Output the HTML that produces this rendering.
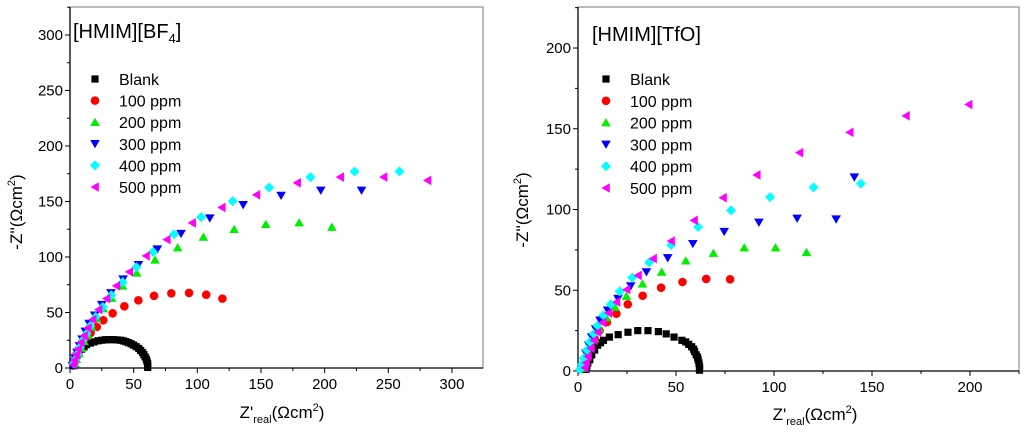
<!DOCTYPE html>
<html><head><meta charset="utf-8"><style>
body{margin:0;background:#fff;width:1024px;height:437px;overflow:hidden}
svg{display:block}
text{font-family:"Liberation Sans",Arial,sans-serif;fill:#000}
</style></head><body>
<svg id="svg" width="1024" height="437"></svg>
<script>
const seriesNames=["Blank","100 ppm","200 ppm","300 ppm","400 ppm","500 ppm"];
const seriesColors=["#000000","#ff0000","#00ee00","#0000ff","#00ffff","#ff00ff"];
const seriesShapes=["square","circle","up","down","diamond","left"];
// left chart [HMIM][BF4]
const bfBlank=[[3,2],[3.5,5],[4.5,8],[5.5,11],[7,14],[9,17],[11,19],[13,21],[16,22.5],[19,23.5],[22,24.5],[25,25],[28,25.5],[31,25.5],[34,25.5],[37,25.3],[40,25],[42,24.4],[44,23.7],[46,22.8],[48,21.8],[50,20.6],[52,19.2],[54,17.6],[55.5,15.8],[57,14],[58,12],[59,10],[60,8],[60.5,6],[61,4],[61,2],[61,0.5]];
const bf100=[[3,4],[4,8],[5,12],[7,17],[9,22],[12,27],[16.2,31.6],[21,37],[26.2,43],[33.5,49.3],[42.7,55.6],[53.7,61],[66,65],[79.6,67.3],[93.5,67.6],[107,66],[119.7,62.5]];
const bf200=[[4,4],[5,8],[7,13],[9,18],[11,24],[14,30],[17,37],[21,44.5],[26.2,53.5],[32.7,63],[41.4,74],[52.4,85.7],[66.8,97.4],[84.6,108.5],[104.8,118],[128.9,125],[153.8,129.5],[180,131],[205.7,127]];
const bf300=[[2,2],[3,5],[4,9],[5.5,14],[7.5,20],[9.5,26],[12,33],[15,40],[19.4,47.5],[24.9,57],[32.2,67.6],[41.7,80],[53.7,93],[68.6,107],[87.2,121],[109.8,135],[136,147],[165.8,155.4],[197,160],[229,160]];
const bf400=[[3,4],[4.5,8],[6,13],[8,19],[10,25],[13,31],[16,38],[20.2,46],[25.7,55],[32.5,65.5],[41.4,77.2],[52.1,90.8],[65.2,104.6],[81.7,120.5],[103,135.9],[127.8,150.3],[156.4,162.6],[188.9,172],[223.5,177],[258.8,177]];
const bf500=[[2.5,3],[3.5,7],[5,12],[6.5,17],[8.5,23],[11,29],[14,36],[17.8,43.6],[22.5,52.6],[28.6,62.5],[36.4,74],[46.6,86.6],[59.7,101],[76,115.7],[95.9,130.7],[119.2,144.6],[146.4,156],[178.4,166.8],[212.2,172],[246.3,172],[280.8,169]];
// right chart [HMIM][TfO]
const tfBlank=[[4,1],[4.5,3],[5,5],[6,7],[7,10],[8.5,13],[10,16],[11.5,17.5],[13,19],[16,21],[20.5,22.5],[25.5,24],[30.5,25],[35.7,25],[41,24.4],[45,23],[49,21],[53,19],[55,18],[56.5,16.5],[58,15],[59,13.5],[59.5,12],[60.3,10],[61,8.5],[61.3,7],[61.7,5],[62,3],[62,1.5],[62,0.5]];
const tf100=[[3,2],[4,6],[5,10],[6.5,15],[8.5,20],[11,25],[14.8,30.3],[19.6,35.5],[25.4,41.3],[33,46.6],[42.4,51.6],[53.3,55.1],[65.4,57],[77.6,56.8]];
const tf200=[[3,2],[4,6],[5,10],[6.5,15],[8.5,20],[11,26],[14.5,33],[18.9,39.6],[24.7,46.4],[32.9,54],[42.7,61.3],[55,68.3],[69.1,73],[84.8,76.4],[100.8,76.4],[116.6,73.5]];
const tf300=[[2,2],[3,6],[4,11],[5.5,16],[7,21],[9,26],[11.2,31.4],[15.1,37.6],[20.4,44.8],[26.9,52.6],[34.9,61.3],[45.8,70],[58.6,78.8],[74.6,86.3],[92.3,92],[111.8,94.5],[131.7,94],[141,120]];
const tf400=[[1,1],[2,4],[3,8],[4.5,13],[6,18],[8,23],[10,28],[12.9,34.5],[16.7,41.3],[21.3,49.3],[27.7,57.8],[36.3,67.3],[47.5,78],[61.3,89.2],[78.1,99.5],[98,107.7],[120.2,113.7],[144.3,116]];
const tf500=[[3.5,2],[4,5],[5,9],[6.5,14],[8,19],[10,24],[12.5,30],[15.5,35.9],[19.6,42.7],[24.7,50.4],[30.6,59.2],[38.3,69.6],[47.5,80.5],[59.2,93.3],[74,107.3],[91.2,121.4],[113,135.2],[138.6,147.8],[167.3,158],[199.3,165]];
const bfXTicks=[0,50,100,150,200,250,300];
const bfYTicks=[0,50,100,150,200,250,300];
const tfXTicks=[0,50,100,150,200];
const tfYTicks=[0,50,100,150,200];

const NS="http://www.w3.org/2000/svg";
const svg=document.getElementById('svg');
function mk(tag,attrs,parent){const e=document.createElementNS(NS,tag);for(const k in attrs)e.setAttribute(k,attrs[k]);(parent||svg).appendChild(e);return e;}
function marker(g,shape,cx,cy,color,s){
  let e;
  if(shape==="square")e=mk('rect',{x:cx-3.6,y:cy-3.6,width:7.2,height:7.2,fill:color},g);
  else if(shape==="circle")e=mk('circle',{cx:cx,cy:cy,r:4.3,fill:color},g);
  else{let p;
    if(shape==="up")p=[[0,-4.5],[4.8,3.8],[-4.8,3.8]];
    else if(shape==="down")p=[[0,4.5],[4.8,-3.8],[-4.8,-3.8]];
    else if(shape==="diamond")p=[[0,-5],[5,0],[0,5],[-5,0]];
    else p=[[-4.5,0],[3.8,-4.8],[3.8,4.8]];
    e=mk('polygon',{points:p.map(q=>(cx+q[0])+','+(cy+q[1])).join(' '),fill:color},g);}
  return e;
}
function chart(c){
  const g=mk('g',{});
  
  
  const X=v=>c.x0+(v-c.xmin)*(c.x1-c.x0)/(c.xmax-c.xmin);
  const Y=v=>c.y0-(v-c.ymin)*(c.y0-c.y1)/(c.ymax-c.ymin);
  const frame=mk('rect',{x:c.x0,y:c.y1,width:c.x1-c.x0,height:c.y0-c.y1,fill:'none',stroke:'#777','stroke-width':1},g);
  
  
  const xa=mk('line',{x1:c.x0,y1:c.y0,x2:c.x1,y2:c.y0,stroke:'#000','stroke-width':1.3},g);
  
  
  const ya=mk('line',{x1:c.x0,y1:c.y0,x2:c.x0,y2:c.y1,stroke:'#000','stroke-width':1.3},g);
  
  
  const step=c.xt[1]-c.xt[0];
  for(let v=c.xmin;v<=c.xmax;v+=step/2){const maj=c.xt.includes(v);mk('line',{x1:X(v),y1:c.y0,x2:X(v),y2:c.y0+(maj?5:3),stroke:'#000'},g);}
  for(let v=c.ymin;v<=c.ymax;v+=step/2){const maj=c.yt.includes(v);mk('line',{x1:c.x0,y1:Y(v),x2:c.x0-(maj?5:3),y2:Y(v),stroke:'#000'},g);}
  c.xt.forEach(v=>{const t=mk('text',{x:X(v),y:c.y0+21,'text-anchor':'middle','font-size':15},g);t.textContent=v;
    
    });
  c.yt.forEach(v=>{const t=mk('text',{x:c.x0-7,y:Y(v)+5,'text-anchor':'end','font-size':15},g);t.textContent=v;
    
    });
  const xt=mk('text',{x:c.xtx,y:c.xty,'text-anchor':'middle','font-size':17},g);
  xt.innerHTML='Z\'<tspan font-size="11" dy="5">real</tspan><tspan dy="-5">(Ωcm</tspan><tspan font-size="11" dy="-7">2</tspan><tspan dy="7">)</tspan>';
  
  
  const yt=mk('text',{x:0,y:0,'text-anchor':'middle','font-size':17,transform:`translate(${c.ytx},${c.yty}) rotate(-90)`},g);
  yt.innerHTML='-Z\'\'(Ωcm<tspan font-size="11" dy="-7">2</tspan><tspan dy="7">)</tspan>';
  
  
  const ti=mk('text',{x:c.tx,y:c.ty,'font-size':20},g);
  ti.innerHTML=c.title;
  
  
  c.series.forEach((s,i)=>{
    const sg=mk('g',{},g);
    
    
    s.forEach(p=>{const m=marker(sg,seriesShapes[i],X(p[0]),Y(p[1]),seriesColors[i]);
      
      });
    const lg=mk('g',{},g);
    
    
    marker(lg,seriesShapes[i],c.lx,c.ly+i*c.ld,seriesColors[i]);
    const lt=mk('text',{x:c.lx+24,y:c.ly+i*c.ld+6,'font-size':16},lg);lt.textContent=seriesNames[i];
  });
}
chart({name:'chart-bf4',x0:70,x1:483,y0:368,y1:7,xmin:0,xmax:324.4,ymin:0,ymax:325.2,xt:bfXTicks,yt:bfYTicks,
  series:[bfBlank,bf100,bf200,bf300,bf400,bf500],title:'[HMIM][BF<tspan font-size="13" dy="5">4</tspan><tspan dy="-5">]</tspan>',tx:73,ty:38,
  lx:95,ly:79,ld:21.6,xtx:282,xty:418,ytx:22,yty:212});
chart({name:'chart-tfo',x0:578,x1:1019,y0:371,y1:7,xmin:0,xmax:225,ymin:0,ymax:225.4,xt:tfXTicks,yt:tfYTicks,
  series:[tfBlank,tf100,tf200,tf300,tf400,tf500],title:'[HMIM][TfO]',tx:592,ty:41,
  lx:606,ly:79,ld:21.8,xtx:815,xty:420,ytx:528,yty:210});
</script>
</body></html>
